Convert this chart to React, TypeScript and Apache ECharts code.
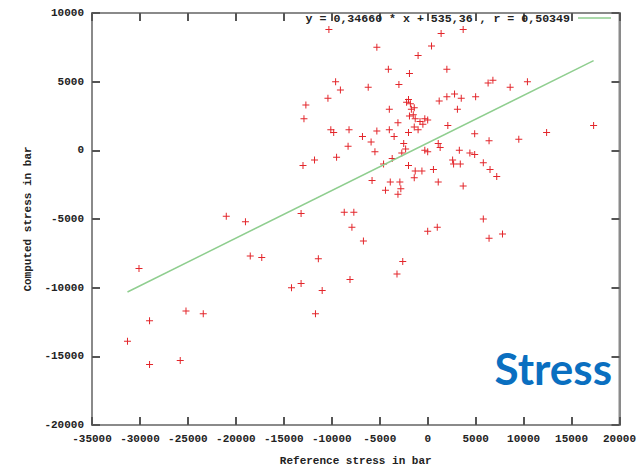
import React, { useEffect, useRef } from "react";
import * as echarts from "echarts";

const xTicks = { min: -35000, max: 20000, interval: 5000 };
const yTicks = { min: -20000, max: 10000, interval: 5000 };

const slope = 0.3466;
const intercept = 535.36;
const fitLabel = "y = 0,34660 * x + 535,36 , r = 0,50349";

const refStress: number[] = [
  -31300, -30100, -29000, -29000, -25800, -25200, -23400, -21000, -19000, -18500,
  -17300, -14200, -13200, -13200, -11700, -11400, -11000, -8100, -7900, -6700,
  -8700, -7700, -3200, -2600, 0, 1000, 5800, 6400, 7800,
  -12700, -12900, -13000, -11800, -10300, -5300, 1400, 400, -1000, 3700,
  -4100, -1900, 2000, -9600, -9100, -10400, -6200, -3000, 6300, 6800,
  8600, 10400, -2000, -2200, -1400, 1200, 2000, 2800, 3500, 5000,
  3100, -4000, -1900, -1300, -300, -800, -1400, -3100, 2100, -10100,
  -9800, -8200, -5300, -4000, 4900, 9500, 12400, 17300, -6800, -5900,
  -3500, -2000, -2500, 1100, 1300, 6400, -8300, -9500, -5500, -2300,
  -2700, -3700, -300, 0, -4600, 3300, 4400, 4900, 2600, 2700,
  3400, 5800, 6500, 7200, -2000, -1300, -600, -1400, 600, 1100,
  3700, -5800, -3900, -2900, -2800, -4400, -3100, -1700, -1500, -500,
  -1000, 0, -1800,
];

const compStress: number[] = [
  -13900, -8600, -12400, -15600, -15300, -11700, -11900, -4800, -5200, -7700,
  -7800, -10000, -9700, -4600, -11900, -7900, -10200, -9400, -5600, -6600,
  -4500, -4500, -9000, -8100, -5900, -5600, -5000, -6400, -6100,
  3300, 2300, -1100, -700, 8800, 7500, 8500, 7600, 6900, 8800,
  5900, 5600, 5900, 5000, 4400, 3800, 4600, 4800, 4900, 5100,
  4600, 5000, 3700, 3500, 3100, 3600, 3900, 4100, 3800, 3900,
  3000, 3000, 2500, 2300, 2300, 2100, 1700, 2000, 1800, 1500,
  1300, 1500, 1400, 1500, 1200, 800, 1300, 1800, 1000, 600,
  1000, 1300, 500, 500, 200, 700, 300, -500, -100, 100,
  -200, -600, 0, -100, -1000, 0, -200, -300, -700, -1000,
  -1000, -900, -1400, -1900, -1100, -1500, -1500, -2000, -1400, -2300,
  -2600, -2200, -2300, -2300, -2800, -2900, -3200, 3000, 2600, 1900,
  1500, 2200, 3400,
];

const fitRange = [-31300, 17300];

const monoFont = "'Liberation Mono', 'DejaVu Sans Mono', monospace";
const textColor = "#222";
const boxColor = "#8a8a8a";
const tickColor = "#555555";

const mkLine = () => ({ show: true, onZero: false, lineStyle: { color: boxColor, width: 2 } });
const mkTick = () => ({ show: true, inside: true, length: 8, lineStyle: { color: tickColor, width: 2 } });
const mkLabel = () => ({
  fontFamily: monoFont,
  fontWeight: "bold",
  fontSize: 11,
  color: textColor,
  margin: 8,
  formatter: (v: number) => String(v),
});
const mkName = () => ({ fontFamily: monoFont, fontWeight: "bold", fontSize: 11, color: textColor });

export default function App() {
  const ref = useRef<HTMLDivElement>(null);

  useEffect(() => {
    if (!ref.current) return;
    const chart = echarts.init(ref.current, undefined, { renderer: "svg" });
    const points = refStress.map((x, i) => [x, compStress[i]]);
    const fit = fitRange.map((x) => [x, slope * x + intercept]);

    const plusPath = "path://M3,0h1v3h3v1h-3v3h-1v-3h-3v-1h3z";

    chart.setOption({
      animation: false,
      grid: {
        left: 92,
        right: 19,
        top: 13,
        bottom: 43,
        show: true,
        borderColor: boxColor,
        borderWidth: 2,
      },
      legend: {
        show: true,
        data: [{ name: fitLabel, icon: "path://M0,0H33V1.6H0z" }],
        right: 28,
        top: 12,
        align: "right",
        itemWidth: 33,
        itemHeight: 2,
        itemGap: 0,
        textStyle: { fontFamily: monoFont, fontWeight: "bold", fontSize: 11.6, color: textColor, padding: [0, 3, 0, 0] },
        padding: 0,
      },
      xAxis: [
        {
          type: "value",
          ...xTicks,
          position: "bottom",
          name: "Reference stress in bar",
          nameLocation: "middle",
          nameGap: 30,
          nameTextStyle: mkName(),
          axisLabel: mkLabel(),
          axisLine: mkLine(),
          axisTick: mkTick(),
          splitLine: { show: false },
        },
        {
          type: "value",
          ...xTicks,
          position: "top",
          axisLabel: { show: false },
          axisLine: mkLine(),
          axisTick: mkTick(),
          splitLine: { show: false },
        },
      ],
      yAxis: [
        {
          type: "value",
          ...yTicks,
          position: "left",
          name: "Computed stress in bar",
          nameLocation: "middle",
          nameGap: 53,
          nameTextStyle: mkName(),
          axisLabel: mkLabel(),
          axisLine: mkLine(),
          axisTick: mkTick(),
          splitLine: { show: false },
        },
        {
          type: "value",
          ...yTicks,
          position: "right",
          axisLabel: { show: false },
          axisLine: mkLine(),
          axisTick: mkTick(),
          splitLine: { show: false },
        },
      ],
      series: [
        {
          type: "scatter",
          name: "data",
          data: points,
          symbol: plusPath,
          symbolSize: 7,
          itemStyle: { color: "#e3262b", opacity: 1 },
          silent: true,
        },
        {
          type: "line",
          name: fitLabel,
          data: fit,
          showSymbol: false,
          symbol: "none",
          lineStyle: { color: "#8fce8f", width: 1.5 },
          itemStyle: { color: "#8fce8f" },
          silent: true,
        },
      ],
      graphic: [
        {
          type: "text",
          right: 27,
          top: 346,
          style: {
            text: "Stress",
            fontFamily: "Lato, 'Open Sans', sans-serif",
            fontWeight: "bold",
            fontSize: 44,
            fill: "#0a6fc0",
          },
        },
      ],
    });

    return () => chart.dispose();
  }, []);

  return (
    <div
      ref={ref}
      style={{ position: "fixed", left: 0, top: 0, width: 639, height: 471, background: "#fff" }}
    />
  );
}
